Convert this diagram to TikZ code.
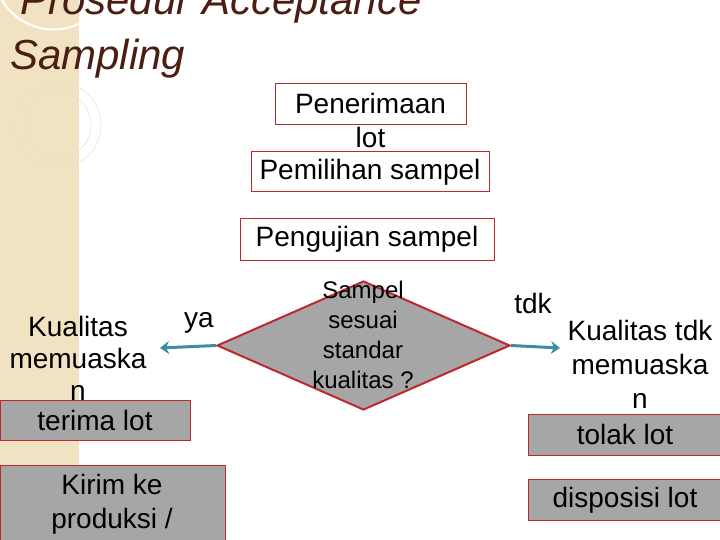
\documentclass[tikz,border=0pt]{standalone}
\usepackage{fontspec}
\setmainfont{Liberation Sans}
\usetikzlibrary{positioning, shapes.geometric, arrows.meta}
\definecolor{beige}{HTML}{F1E3C2}
\definecolor{titlebrown}{HTML}{4A1E12}
\definecolor{boxred}{HTML}{C0262C}
\definecolor{boxgray}{HTML}{A6A6A6}
\definecolor{arrowteal}{HTML}{3D8CA3}
\begin{document}
\begin{tikzpicture}[x=1pt, y=-1pt,
    txt/.style={font=\fontsize{28}{34}\selectfont, align=center, inner sep=0pt},
    whitebox/.style={rectangle, draw=boxred, line width=1pt, fill=white, txt},
    graybox/.style={rectangle, draw=boxred, line width=1pt, fill=boxgray, txt},
    decision/.style={diamond, draw=boxred, line width=2pt, fill=boxgray, txt, aspect=2.26, inner sep=0pt},
    arrow/.style={line width=3pt, draw=arrowteal, -{Stealth[length=9pt, width=13pt]}}
    ]
    \useasboundingbox (0,0) rectangle (720,540);
    % background strip
    \fill[beige] (0,0) rectangle (79,540);
    \draw[white, line width=2pt] (110,-10) arc[start angle=20, end angle=210, radius=60];
    \draw[beige!70!brown!60, line width=0.5pt] (58,125) circle[radius=43];
    \draw[beige!70!brown!60, line width=0.5pt] (58,125) circle[radius=33];
    \node[anchor=base west, font=\fontsize{42}{46}\selectfont\itshape, text=titlebrown, inner sep=0pt] (title1) at (20,15) {Prosedur Acceptance};
    \node[anchor=base west, font=\fontsize{42}{46}\selectfont\itshape, text=titlebrown, inner sep=0pt] (title2) at (10,70) {Sampling};

    % top boxes
    \node[whitebox, minimum width=191pt, minimum height=41pt] (terima) at (370.5,104.5) {};
    \node[txt, anchor=base] (terimat1) at (370.5,114) {Penerimaan};
    \node[txt, anchor=base] (terimat2) at (370.5,148) {lot};
    \node[whitebox, minimum width=238pt, minimum height=40pt] (pilih) at (370,172) {Pemilihan sampel};
    \node[whitebox, minimum width=254pt, minimum height=41pt] (uji) at (367,239.5) {Pengujian sampel};

    % decision
    \node[decision, minimum width=293pt, minimum height=129pt] (cek) at (363.5,345.5) {};
    \node[txt, font=\fontsize{24}{30}\selectfont] (cekt) at (363,335) {Sampel\\sesuai\\standar\\kualitas ?};
    \coordinate (kiri) at (160,348);
    \coordinate (kanan) at (560,348);
    \draw[arrow] (cek.west) -- (kiri);
    \draw[arrow] (cek.east) -- (kanan);
    \node[txt, anchor=base] (ya) at (199,327) {ya};
    \node[txt, anchor=base] (tdk) at (533,313) {tdk};

    % left branch
    \node[txt, font=\fontsize{28}{32}\selectfont] (puas) at (78,358) {Kualitas\\memuaska\\n};
    \node[graybox, minimum width=190pt, minimum height=40pt] (lotok) at (95,420) {terima lot};
    \node[graybox, minimum width=225pt, minimum height=80pt, anchor=north west] (kirim) at (0,465) {};
    \node[txt, anchor=north] (kirimt) at (112,474) {Kirim ke\\produksi /};

    % right branch
    \node[txt, font=\fontsize{28}{34}\selectfont] (tidakpuas) at (640,364) {Kualitas tdk\\memuaska\\n};
    \node[graybox, minimum width=194pt, minimum height=41pt] (tolak) at (625,434.5) {tolak lot};
    \node[graybox, minimum width=194pt, minimum height=41pt] (dispo) at (625,500) {disposisi lot};
\end{tikzpicture}
\end{document}
